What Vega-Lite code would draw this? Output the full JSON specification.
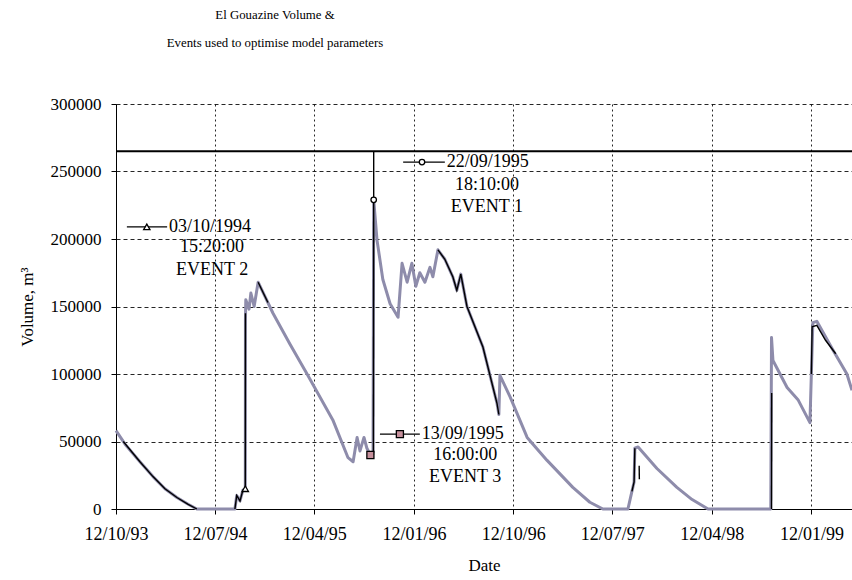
{
  "$schema": "https://vega.github.io/schema/vega-lite/v6.json",
  "width": 736,
  "height": 405,
  "autosize": {"type": "none"},
  "padding": {"left": 116, "top": 104, "right": 0, "bottom": 71},
  "background": "white",
  "title": {
    "text": ["El Gouazine Volume &", "Events used to optimise model parameters"],
    "font": "Liberation Serif",
    "fontSize": 12.8,
    "fontWeight": "normal",
    "lineHeight": 28,
    "anchor": "middle",
    "dx": -209,
    "offset": 45,
    "color": "black"
  },
  "config": {
    "view": {"stroke": null},
    "font": "Liberation Serif",
    "axis": {
      "labelFont": "Liberation Serif",
      "titleFont": "Liberation Serif",
      "labelFontSize": 17,
      "titleFontSize": 17,
      "titleFontWeight": "normal",
      "labelColor": "black",
      "titleColor": "black",
      "domainColor": "black",
      "tickColor": "black",
      "tickSize": 5,
      "gridColor": "black",
      "gridOpacity": 0.85
    },
    "text": {"font": "Liberation Serif", "fontSize": 18, "color": "black"}
  },
  "datasets": {
    "simulated": [
      {"d": "1993-10-12T00:00", "v": 58000},
      {"d": "1993-11-06T00:00", "v": 48000},
      {"d": "1993-12-17T00:00", "v": 35000},
      {"d": "1994-01-22T00:00", "v": 24000},
      {"d": "1994-02-24T00:00", "v": 15000},
      {"d": "1994-03-29T00:00", "v": 8500},
      {"d": "1994-04-29T00:00", "v": 3500},
      {"d": "1994-05-23T00:00", "v": 0},
      {"d": "1994-09-05T00:00", "v": 0},
      {"d": "1994-09-10T00:00", "v": 10000},
      {"d": "1994-09-19T00:00", "v": 6000},
      {"d": "1994-09-27T00:00", "v": 14000},
      {"d": "1994-10-03T15:20", "v": 15000},
      {"d": "1994-10-04T00:00", "v": 140000},
      {"d": "1994-10-05T00:00", "v": 155000},
      {"d": "1994-10-14T00:00", "v": 148000},
      {"d": "1994-10-19T00:00", "v": 160000},
      {"d": "1994-10-28T00:00", "v": 150000},
      {"d": "1994-11-08T00:00", "v": 168000},
      {"d": "1994-12-19T00:00", "v": 145000},
      {"d": "1995-02-04T00:00", "v": 122000},
      {"d": "1995-03-23T00:00", "v": 100000},
      {"d": "1995-06-02T00:00", "v": 66000},
      {"d": "1995-07-14T00:00", "v": 38000},
      {"d": "1995-07-28T00:00", "v": 35000},
      {"d": "1995-08-08T00:00", "v": 53000},
      {"d": "1995-08-16T00:00", "v": 43000},
      {"d": "1995-08-27T00:00", "v": 53000},
      {"d": "1995-09-04T00:00", "v": 45000},
      {"d": "1995-09-13T16:00", "v": 40000},
      {"d": "1995-09-21T00:00", "v": 42000},
      {"d": "1995-09-22T18:10", "v": 229000},
      {"d": "1995-10-02T00:00", "v": 199000},
      {"d": "1995-10-18T00:00", "v": 170000},
      {"d": "1995-11-07T00:00", "v": 152000},
      {"d": "1995-11-29T00:00", "v": 142000},
      {"d": "1995-12-10T00:00", "v": 182000},
      {"d": "1995-12-24T00:00", "v": 168000},
      {"d": "1996-01-06T00:00", "v": 182000},
      {"d": "1996-01-17T00:00", "v": 165000},
      {"d": "1996-01-28T00:00", "v": 175000},
      {"d": "1996-02-11T00:00", "v": 168000},
      {"d": "1996-02-25T00:00", "v": 179000},
      {"d": "1996-03-04T00:00", "v": 172000},
      {"d": "1996-03-18T00:00", "v": 192000},
      {"d": "1996-04-06T00:00", "v": 185000},
      {"d": "1996-04-28T00:00", "v": 172000},
      {"d": "1996-05-09T00:00", "v": 162000},
      {"d": "1996-05-20T00:00", "v": 174000},
      {"d": "1996-06-06T00:00", "v": 150000},
      {"d": "1996-07-20T00:00", "v": 120000},
      {"d": "1996-08-28T00:00", "v": 78000},
      {"d": "1996-09-02T00:00", "v": 70000},
      {"d": "1996-09-05T00:00", "v": 99000},
      {"d": "1996-10-03T00:00", "v": 83000},
      {"d": "1996-11-19T00:00", "v": 53000},
      {"d": "1997-01-13T00:00", "v": 36000},
      {"d": "1997-03-25T00:00", "v": 16000},
      {"d": "1997-05-11T00:00", "v": 5000},
      {"d": "1997-06-16T00:00", "v": 0},
      {"d": "1997-08-24T00:00", "v": 0},
      {"d": "1997-09-04T00:00", "v": 13000},
      {"d": "1997-09-10T00:00", "v": 20000},
      {"d": "1997-09-12T00:00", "v": 45000},
      {"d": "1997-09-21T00:00", "v": 46000},
      {"d": "1997-11-12T00:00", "v": 30000},
      {"d": "1998-01-06T00:00", "v": 16000},
      {"d": "1998-02-17T00:00", "v": 7000},
      {"d": "1998-04-02T00:00", "v": 0},
      {"d": "1998-09-22T00:00", "v": 0},
      {"d": "1998-09-24T00:00", "v": 127000},
      {"d": "1998-09-28T00:00", "v": 110000},
      {"d": "1998-11-06T00:00", "v": 90000},
      {"d": "1998-12-06T00:00", "v": 81000},
      {"d": "1999-01-08T00:00", "v": 64000},
      {"d": "1999-01-16T00:00", "v": 138000},
      {"d": "1999-01-27T00:00", "v": 139000},
      {"d": "1999-03-12T00:00", "v": 118000},
      {"d": "1999-04-20T00:00", "v": 100000},
      {"d": "1999-05-04T00:00", "v": 88000}
    ],
    "observed": [
      {"seg": "a", "d": "1993-11-01T00:00", "v": 50000},
      {"seg": "a", "d": "1993-12-17T00:00", "v": 35000},
      {"seg": "a", "d": "1994-01-22T00:00", "v": 24000},
      {"seg": "a", "d": "1994-02-24T00:00", "v": 15000},
      {"seg": "a", "d": "1994-03-29T00:00", "v": 8500},
      {"seg": "a", "d": "1994-04-29T00:00", "v": 3500},
      {"seg": "a", "d": "1994-05-23T00:00", "v": 0},
      {"seg": "b", "d": "1994-09-05T00:00", "v": 0},
      {"seg": "b", "d": "1994-09-10T00:00", "v": 10000},
      {"seg": "b", "d": "1994-09-19T00:00", "v": 6000},
      {"seg": "b", "d": "1994-09-27T00:00", "v": 14000},
      {"seg": "b", "d": "1994-10-03T15:20", "v": 15000},
      {"seg": "b", "d": "1994-10-04T00:00", "v": 145000},
      {"seg": "c", "d": "1994-11-08T00:00", "v": 168000},
      {"seg": "c", "d": "1994-12-05T00:00", "v": 153000},
      {"seg": "d", "d": "1995-09-22T00:00", "v": 40000},
      {"seg": "d", "d": "1995-09-22T18:10", "v": 229000},
      {"seg": "e", "d": "1996-03-18T00:00", "v": 192000},
      {"seg": "e", "d": "1996-04-06T00:00", "v": 185000},
      {"seg": "e", "d": "1996-04-28T00:00", "v": 172000},
      {"seg": "e", "d": "1996-05-09T00:00", "v": 162000},
      {"seg": "e", "d": "1996-05-20T00:00", "v": 174000},
      {"seg": "e", "d": "1996-06-06T00:00", "v": 150000},
      {"seg": "e", "d": "1996-07-20T00:00", "v": 120000},
      {"seg": "e", "d": "1996-08-28T00:00", "v": 78000},
      {"seg": "e", "d": "1996-09-02T00:00", "v": 70000},
      {"seg": "f", "d": "1997-09-04T00:00", "v": 13000},
      {"seg": "f", "d": "1997-09-10T00:00", "v": 20000},
      {"seg": "f", "d": "1997-09-12T00:00", "v": 45000},
      {"seg": "g", "d": "1997-09-24T00:00", "v": 32000},
      {"seg": "g", "d": "1997-09-24T12:00", "v": 22000},
      {"seg": "h", "d": "1998-09-24T00:00", "v": 0},
      {"seg": "h", "d": "1998-09-24T12:00", "v": 86000},
      {"seg": "j", "d": "1999-01-12T00:00", "v": 100000},
      {"seg": "j", "d": "1999-01-14T00:00", "v": 135000},
      {"seg": "j", "d": "1999-01-27T00:00", "v": 136000},
      {"seg": "j", "d": "1999-02-20T00:00", "v": 125000},
      {"seg": "j", "d": "1999-03-20T00:00", "v": 115000}
    ],
    "events": [
      {"ev": "EVENT 1", "d": "1995-09-22T18:10", "v": 229000},
      {"ev": "EVENT 2", "d": "1994-10-03T15:20", "v": 15000},
      {"ev": "EVENT 3", "d": "1995-09-13T16:00", "v": 40000},
      {"ev": "EVENT 1", "d": "1996-02-03T00:00", "v": 257000},
      {"ev": "EVENT 2", "d": "1994-01-05T00:00", "v": 209000},
      {"ev": "EVENT 3", "d": "1995-12-04T00:00", "v": 55500}
    ],
    "keys": [
      {"ev": "EVENT 1", "d": "1995-12-13T00:00", "d2": "1996-04-06T00:00", "v": 257000},
      {"ev": "EVENT 2", "d": "1993-11-11T00:00", "d2": "1994-03-02T00:00", "v": 209000},
      {"ev": "EVENT 3", "d": "1995-10-10T00:00", "d2": "1996-01-28T00:00", "v": 55500}
    ],
    "stamps": [
      {"d": "1996-04-06T00:00", "v": 257000, "txt": "22/09/1995"},
      {"d": "1994-03-02T00:00", "v": 209000, "txt": "03/10/1994"},
      {"d": "1996-01-28T00:00", "v": 55500, "txt": "13/09/1995"}
    ],
    "notes": [
      {"d": "1996-07-31T00:00", "v": 240000, "txt": "18:10:00"},
      {"d": "1996-07-31T00:00", "v": 224000, "txt": "EVENT 1"},
      {"d": "1994-07-04T00:00", "v": 194000, "txt": "15:20:00"},
      {"d": "1994-07-04T00:00", "v": 177000, "txt": "EVENT 2"},
      {"d": "1996-06-01T00:00", "v": 40000, "txt": "16:00:00"},
      {"d": "1996-06-01T00:00", "v": 23700, "txt": "EVENT 3"}
    ]
  },
  "layer": [
    {
      "data": {"name": "simulated"},
      "mark": {"type": "line", "color": "#8e8cab", "strokeWidth": 3, "strokeJoin": "round"},
      "encoding": {
        "x": {
          "field": "d",
          "type": "temporal",
          "scale": {"domain": ["1993-10-12T00:00", "1999-05-04T00:00"]},
          "axis": {
            "title": "Date",
            "format": "%d/%m/%y",
            "values": [
              {"year": 1993, "month": 10, "date": 12},
              {"year": 1994, "month": 7, "date": 12},
              {"year": 1995, "month": 4, "date": 12},
              {"year": 1996, "month": 1, "date": 12},
              {"year": 1996, "month": 10, "date": 12},
              {"year": 1997, "month": 7, "date": 12},
              {"year": 1998, "month": 4, "date": 12},
              {"year": 1999, "month": 1, "date": 12}
            ],
            "labelFontSize": 18,
            "labelPadding": 11,
            "titlePadding": 14,
            "labelFlush": false,
            "labelOverlap": false,
            "gridDash": [2, 3]
          }
        },
        "y": {
          "field": "v",
          "type": "quantitative",
          "scale": {"domain": [0, 300000], "nice": false},
          "axis": {
            "title": "Volume, m³",
            "format": "d",
            "values": [0, 50000, 100000, 150000, 200000, 250000, 300000],
            "labelPadding": 10,
            "titlePadding": 14,
            "gridDash": [4, 3]
          }
        }
      }
    },
    {
      "data": {"name": "observed"},
      "mark": {"type": "line", "color": "black", "strokeWidth": 1.4},
      "encoding": {
        "x": {"field": "d", "type": "temporal"},
        "y": {"field": "v", "type": "quantitative"},
        "detail": {"field": "seg"}
      }
    },
    {
      "data": {"values": [{"v": 265000}]},
      "mark": {"type": "rule", "color": "black", "strokeWidth": 1.8},
      "encoding": {"y": {"field": "v", "type": "quantitative"}}
    },
    {
      "data": {"values": [{"d": "1995-09-22T18:10", "v": 229000, "v2": 265000}]},
      "mark": {"type": "rule", "color": "black", "strokeWidth": 1.4},
      "encoding": {
        "x": {"field": "d", "type": "temporal"},
        "y": {"field": "v", "type": "quantitative"},
        "y2": {"field": "v2"}
      }
    },
    {
      "data": {"name": "keys"},
      "mark": {"type": "rule", "color": "black", "strokeWidth": 1.2},
      "encoding": {
        "x": {"field": "d", "type": "temporal"},
        "x2": {"field": "d2"},
        "y": {"field": "v", "type": "quantitative"}
      }
    },
    {
      "data": {"name": "events"},
      "mark": {"type": "point", "filled": true, "stroke": "black", "strokeWidth": 1.3, "opacity": 1},
      "encoding": {
        "x": {"field": "d", "type": "temporal"},
        "y": {"field": "v", "type": "quantitative"},
        "shape": {"field": "ev", "type": "nominal", "scale": {"domain": ["EVENT 1", "EVENT 2", "EVENT 3"], "range": ["circle", "triangle-up", "square"]}, "legend": null},
        "fill": {"field": "ev", "type": "nominal", "scale": {"domain": ["EVENT 1", "EVENT 2", "EVENT 3"], "range": ["white", "white", "#c58f9b"]}, "legend": null},
        "size": {"field": "ev", "type": "nominal", "scale": {"domain": ["EVENT 1", "EVENT 2", "EVENT 3"], "range": [30, 50, 90]}, "legend": null}
      }
    },
    {
      "data": {"name": "stamps"},
      "mark": {"type": "text", "align": "left", "baseline": "middle", "dx": 2},
      "encoding": {
        "x": {"field": "d", "type": "temporal"},
        "y": {"field": "v", "type": "quantitative"},
        "text": {"field": "txt"}
      }
    },
    {
      "data": {"name": "notes"},
      "mark": {"type": "text", "align": "center", "baseline": "middle"},
      "encoding": {
        "x": {"field": "d", "type": "temporal"},
        "y": {"field": "v", "type": "quantitative"},
        "text": {"field": "txt"}
      }
    }
  ]
}
